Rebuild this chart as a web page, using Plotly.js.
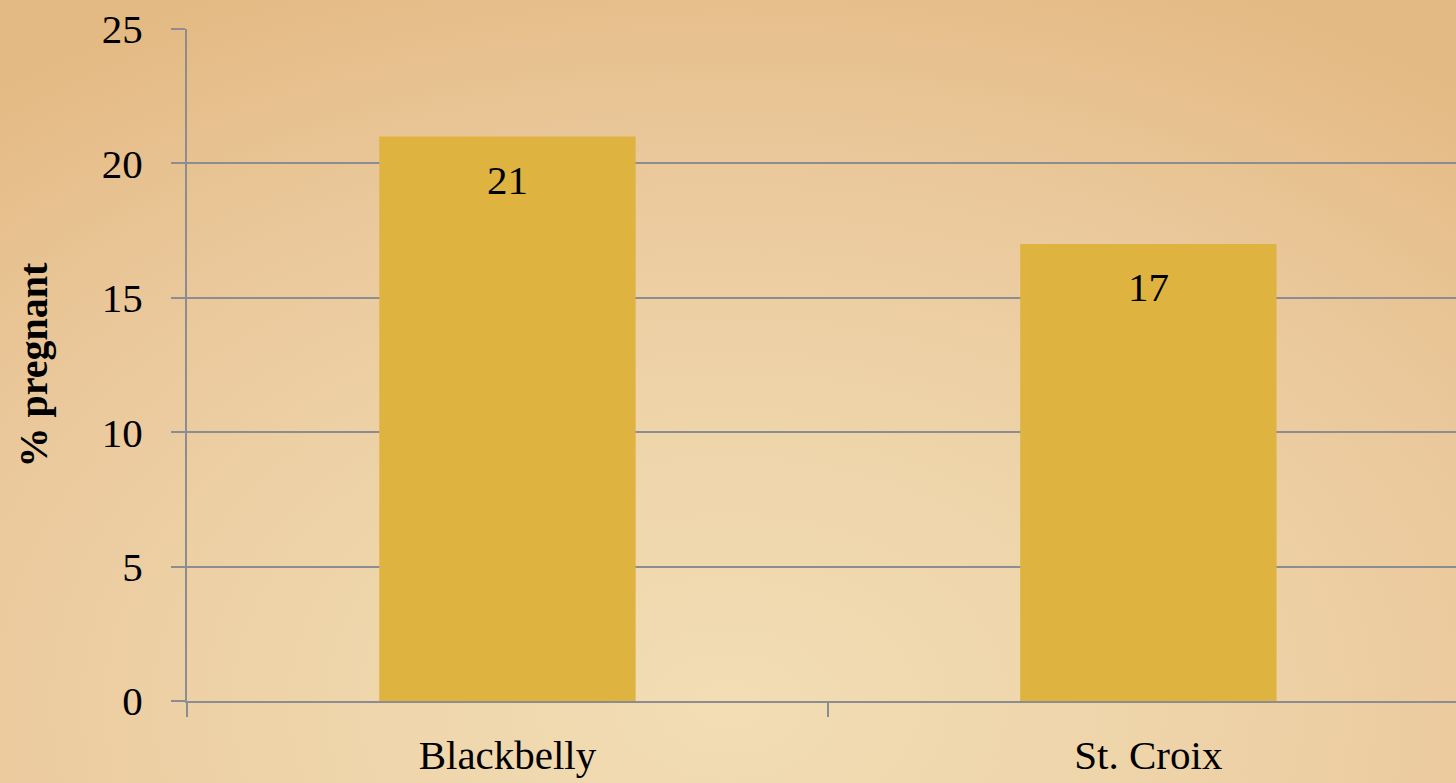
<!DOCTYPE html>
<html>
<head>
<meta charset="utf-8">
<script src="https://cdn.plot.ly/plotly-3.0.1.min.js"></script>
<style>
html, body { margin:0; padding:0; width:1456px; height:783px; overflow:hidden; }
body {
  background: radial-gradient(ellipse 80% 100% at 50% 90%, #f2ddb4 0%, #eed3a8 40%, #eac89b 70%, #e4ba84 100%);
}
#chart { width:1456px; height:783px; }
</style>
</head>
<body>
<div id="chart"></div>
<script>
const categories = ["Blackbelly", "St. Croix"];
const values = [21, 17];
const yTicks = [0, 5, 10, 15, 20, 25];
const yTitle = "% pregnant";

const fontFam = "'Liberation Serif', 'Times New Roman', serif";
const gridColor = "#8b8d93";

const trace = {
  type: "bar",
  x: categories,
  y: values,
  width: 0.4,
  marker: { color: "#dfb340" },
  hoverinfo: "none"
};

const annotations = categories.map((c, i) => ({
  x: c, y: values[i], xref: "x", yref: "y",
  text: String(values[i]), showarrow: false,
  yanchor: "top", yshift: -18,
  font: { family: fontFam, size: 41, color: "#000" }
}));

const layout = {
  width: 1456, height: 783,
  margin: { l: 187, r: 0, t: 29, b: 82, pad: 0 },
  paper_bgcolor: "rgba(0,0,0,0)",
  plot_bgcolor: "rgba(0,0,0,0)",
  showlegend: false,
  font: { family: fontFam, size: 41, color: "#000" },
  xaxis: {
    type: "category",
    range: [-0.5, 1.48],
    tickson: "boundaries",
    ticks: "outside", ticklen: 14, tickwidth: 1.5, tickcolor: gridColor,
    showline: true, linecolor: gridColor, linewidth: 2,
    showgrid: false,
    ticklabelstandoff: 17,
    tickfont: { family: fontFam, size: 41, color: "#000" }
  },
  yaxis: {
    range: [0, 25],
    tickvals: yTicks,
    ticks: "outside", ticklen: 14, tickwidth: 2, tickcolor: gridColor,
    showline: true, linecolor: gridColor, linewidth: 2,
    showgrid: true, gridcolor: gridColor, gridwidth: 2,
    zeroline: false,
    ticklabelstandoff: 20,
    tickfont: { family: fontFam, size: 41, color: "#000" },
    title: { text: yTitle, standoff: 42, font: { family: fontFam, size: 40, color: "#000", weight: "bold" } }
  },
  annotations: annotations
};

Plotly.newPlot("chart", [trace], layout, { displayModeBar: false, staticPlot: true });
</script>
</body>
</html>
